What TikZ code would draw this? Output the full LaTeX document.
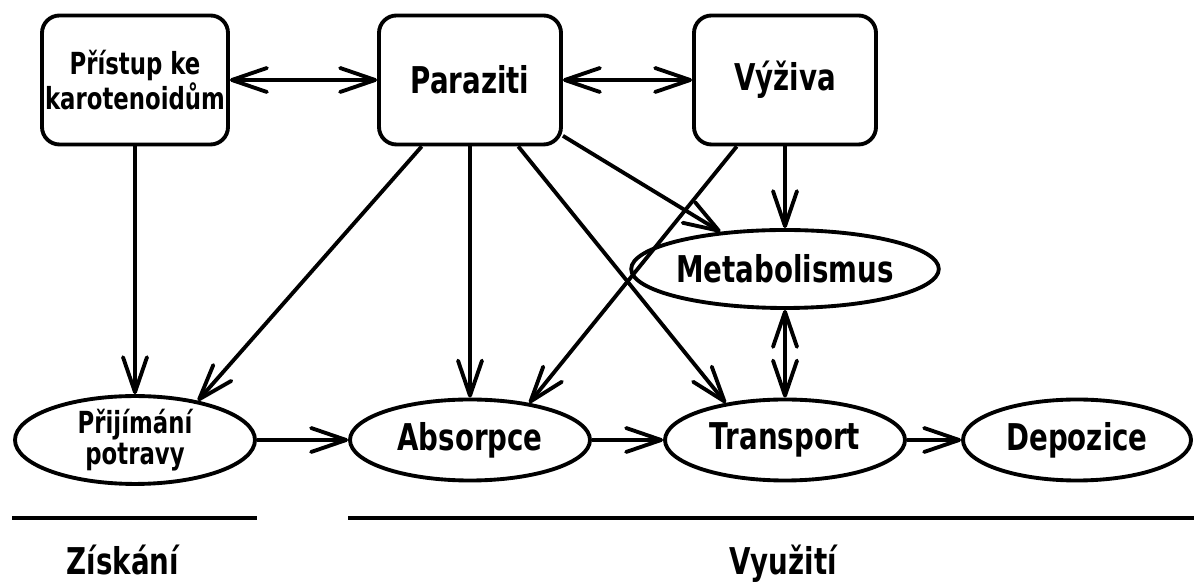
\documentclass[tikz,border=0pt]{standalone}
\usepackage{fontspec}
\setmainfont[FakeStretch=0.75]{DejaVu Sans}
\usetikzlibrary{shapes.geometric,arrows.meta}

\begin{document}
\begin{tikzpicture}[line width=2.2pt,
box/.style={draw,rounded corners=0.35cm,minimum width=3.64cm,minimum height=2.58cm,align=center,inner sep=0pt},
oval/.style={draw,ellipse,minimum width=4.8cm,minimum height=1.62cm,align=center,inner sep=0pt},
big/.style={font=\bfseries\fontsize{21}{24}\selectfont},
small/.style={font=\bfseries\fontsize{17.3}{17.8}\selectfont},
>={Straight Barb[length=7mm,width=4.8mm,round]}]
\useasboundingbox (0,0) rectangle (23.88,11.64);
\node[box,small,minimum width=3.72cm] (acc) at (2.7,10.04) {Přístup ke\\karotenoidům};
\node[box,big] (par) at (9.4,10.04) {Paraziti};
\node[box,big] (viz) at (15.7,10.04) {Výživa};
\node[oval,big,minimum height=1.56cm] (met) at (15.7,6.26) {Metabolismus};
\node[oval,small] (pri) at (2.7,2.84) {Přijímání\\potravy};
\node[oval,big] (abs) at (9.4,2.84) {Absorpce};
\node[oval,big] (tra) at (15.7,2.84) {Transport};
\node[oval,big,minimum width=4.56cm] (dep) at (21.54,2.84) {Depozice};
\draw[<->] (acc) -- (par);
\draw[<->] (par) -- (viz);
\draw[->] (acc) -- (pri);
\draw[->] (par.234) -- (pri.32);
\draw[->] (par) -- (abs);
\draw[->] (par.-54) -- (tra.148);
\draw[->] (par.-31) -- (met.150);
\draw[->] (viz.234) -- (abs.32);
\draw[->] (viz) -- (met);
\draw[<->] (met) -- (tra);
\draw[->] (pri) -- (abs);
\draw[->] (abs) -- (tra);
\draw[->] (tra) -- (dep);
\draw (0.24,1.28) -- (5.14,1.28);
\draw (6.96,1.28) -- (23.88,1.28);
\node[big,anchor=base] (zis) at (2.46,0.15) {Získání};
\node[big,anchor=base] (vyu) at (15.66,0.15) {Využití};
\end{tikzpicture}
\end{document}
